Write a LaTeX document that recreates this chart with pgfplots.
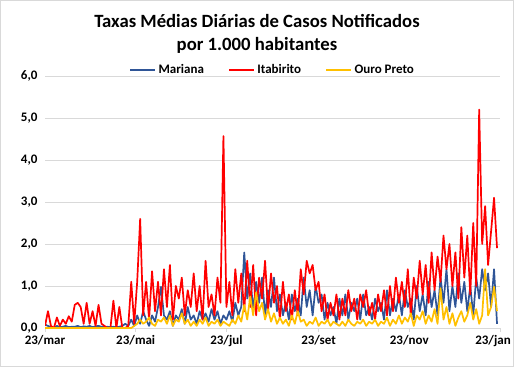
\documentclass[border=0pt]{standalone}
\usepackage{pgfplots}
\usepackage{pgfplotstable}
\pgfplotsset{compat=1.18}
\usepackage{fontspec}
\setmainfont{Carlito}
\definecolor{mar}{HTML}{2F5597}
\definecolor{ita}{HTML}{FF0000}
\definecolor{ouro}{HTML}{FFC000}
\definecolor{gridc}{HTML}{D9D9D9}

\pgfplotstableread{
day mar ita ouro
0 0.08 0.05 0.00
2 0.05 0.40 0.00
4 0.02 0.05 0.00
6 0.00 0.00 0.00
8 0.05 0.25 0.00
10 0.02 0.05 0.00
12 0.03 0.20 0.00
14 0.05 0.10 0.00
16 0.02 0.28 0.00
18 0.03 0.15 0.00
20 0.03 0.55 0.00
22 0.05 0.60 0.00
24 0.02 0.50 0.00
26 0.04 0.10 0.00
28 0.03 0.60 0.00
30 0.05 0.10 0.00
32 0.02 0.40 0.00
34 0.04 0.05 0.00
36 0.05 0.55 0.00
38 0.03 0.10 0.00
40 0.02 0.05 0.00
42 0.03 0.00 0.00
44 0.02 0.00 0.00
46 0.03 0.65 0.00
48 0.02 0.00 0.00
50 0.03 0.50 0.00
52 0.05 0.00 0.00
54 0.10 0.00 0.00
56 0.05 0.05 0.00
58 0.20 1.10 0.00
60 0.05 0.10 0.05
62 0.30 1.10 0.10
64 0.10 2.60 0.20
66 0.40 0.30 0.10
68 0.20 1.10 0.15
70 0.05 0.20 0.25
72 0.30 1.35 0.10
74 0.15 0.40 0.05
76 0.50 1.10 0.20
78 0.98 0.30 0.15
80 0.30 1.40 0.25
82 0.20 0.50 0.10
84 0.40 1.50 0.30
86 0.05 0.20 0.05
88 0.30 1.00 0.20
90 0.20 0.70 0.15
92 0.45 1.20 0.35
94 0.10 0.30 0.10
96 0.50 0.90 0.20
98 0.20 0.50 0.05
100 0.30 1.30 0.15
102 0.10 0.40 0.05
104 0.40 1.00 0.20
106 0.20 0.20 0.10
108 0.35 1.60 0.25
110 0.15 0.50 0.05
112 0.45 0.80 0.15
114 0.20 0.30 0.10
116 0.40 1.20 0.20
118 0.10 0.60 0.05
120 0.30 4.57 0.15
122 0.20 0.50 0.10
124 0.40 1.10 0.05
126 0.15 0.30 0.20
128 0.60 1.40 0.10
130 0.30 0.60 0.30
132 0.50 1.30 0.15
134 1.80 0.40 0.55
136 0.70 1.60 0.20
138 1.30 0.50 0.75
140 0.40 1.50 0.30
142 1.10 0.30 0.85
144 0.60 1.20 0.40
146 1.20 0.70 0.60
148 0.30 1.60 0.20
150 0.90 0.40 0.45
152 0.50 1.30 0.15
154 1.20 0.60 0.35
156 0.40 1.00 0.10
158 0.80 0.20 0.25
160 0.30 1.10 0.10
162 0.60 0.40 0.20
164 0.20 0.80 0.05
166 0.80 0.20 0.30
168 0.40 0.90 0.10
170 0.70 0.30 0.40
172 0.30 1.40 0.15
174 1.20 0.80 0.20
176 0.50 1.60 0.05
178 0.90 1.30 0.15
180 0.30 1.50 0.10
182 1.00 0.90 0.25
184 0.60 1.10 0.05
186 0.80 0.40 0.15
188 0.20 0.80 0.10
190 0.60 0.20 0.20
192 0.30 0.60 0.05
194 0.50 0.30 0.15
196 0.10 0.80 0.10
198 0.70 0.20 0.05
200 0.30 0.70 0.15
202 0.80 0.30 0.05
204 0.20 0.90 0.20
206 0.60 0.40 0.10
208 0.40 0.70 0.05
210 0.70 0.20 0.15
212 0.20 0.80 0.10
214 0.80 0.50 0.20
216 0.30 0.90 0.05
218 0.50 0.30 0.15
220 0.20 0.60 0.10
222 0.70 0.20 0.20
224 0.40 0.80 0.05
226 0.60 0.40 0.15
228 0.20 0.90 0.10
230 0.90 0.30 0.25
232 0.30 1.00 0.05
234 0.70 0.40 0.20
236 0.40 1.20 0.10
238 0.80 0.60 0.30
240 0.30 1.10 0.10
242 0.90 0.50 0.25
244 0.50 1.40 0.15
246 0.70 0.30 0.35
248 0.20 1.20 0.05
250 1.00 0.70 0.30
252 0.40 1.60 0.20
254 0.80 0.80 0.40
256 0.30 1.50 0.10
258 1.10 0.60 0.30
260 0.50 1.80 0.15
262 0.90 0.90 0.45
264 0.30 1.70 0.10
266 1.20 1.10 0.95
268 0.60 2.20 0.20
270 1.40 1.40 0.50
272 0.40 2.00 0.10
274 1.00 1.00 0.35
276 0.50 1.80 0.05
278 1.30 0.70 0.25
280 0.60 2.40 0.40
282 1.10 1.20 0.15
284 0.40 2.20 0.30
286 1.00 0.80 0.60
288 0.30 2.50 0.20
290 1.20 1.00 0.45
292 0.70 5.20 0.10
294 1.40 2.00 0.30
296 0.90 2.90 1.40
298 1.30 1.50 0.30
300 0.50 2.30 0.50
302 1.40 3.10 0.98
304 0.10 1.90 0.40
}\data

\begin{document}
\begin{tikzpicture}[x=1pt,y=1pt]
\path[use as bounding box] (0,0) rectangle (514,367);
\draw[gridc, line width=1pt] (0.5,0.5) rectangle (513.5,366.5);
\node[font=\bfseries\fontsize{18.7}{22}\selectfont] at (257,346) {Taxas Médias Diárias de Casos Notificados};
\node[font=\bfseries\fontsize{18.7}{22}\selectfont] at (257,322) {por 1.000 habitantes};
\begin{axis}[
  at={(45pt,39pt)}, anchor=south west,
  scale only axis, width=455pt, height=252pt,
  xmin=0, xmax=306, ymin=0, ymax=6,
  xtick={0,61,122,184,245},
  xticklabels={23/mar,23/mai,23/jul,23/set,23/nov},
  extra x ticks={306},
  extra x tick labels={23/jan},
  extra x tick style={xticklabel style={xshift=-7pt}},
  ytick={0,1,2,3,4,5,6},
  yticklabel style={/pgf/number format/.cd, fixed, fixed zerofill, precision=1, use comma},
  /pgf/number format/assume math mode=true,
  tick label style={font=\bfseries\fontsize{13}{15}\selectfont},
  axis x line*=bottom, axis y line*=left,
  x axis line style={gridc, line width=0.8pt},
  y axis line style={draw=none},
  xtick style={gridc, line width=0.8pt},
  ytick style={draw=none},
  tick align=outside, major tick length=4pt,
  ymajorgrids, major grid style={gridc, line width=0.8pt},
  legend columns=3,
  legend style={at={(0.5,1.024)}, anchor=center, draw=none, fill=none,
    font=\bfseries\fontsize{13}{15}\selectfont,
    /tikz/every even column/.append style={column sep=22pt}},
  legend image code/.code={\draw[#1, line width=2.5pt] (0pt,0pt) -- (25pt,0pt);},
  every axis plot/.append style={line width=1.7pt, line join=round},
]
\addplot[mar, no marks] table[x=day, y=mar] {\data};
\addlegendentry{Mariana}
\addplot[ita, no marks] table[x=day, y=ita] {\data};
\addlegendentry{Itabirito}
\addplot[ouro, no marks] table[x=day, y=ouro] {\data};
\addlegendentry{Ouro Preto}
\end{axis}
\end{tikzpicture}
\end{document}
